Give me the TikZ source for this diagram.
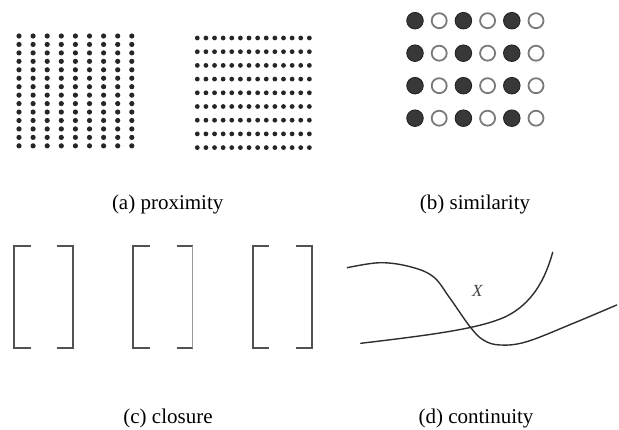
\documentclass[tikz,border=0pt]{standalone}
\usepackage{fontspec}
\setmainfont{Liberation Serif}
\begin{document}
\begin{tikzpicture}[x=1pt,y=-1pt,
  dot/.style={fill=black!85},
  fullc/.style={fill=black!78,draw=black!88,line width=0.8pt},
  openc/.style={draw=black!52,line width=1.8pt,fill=white},
  brk/.style={draw=black!68,line width=2pt,line cap=rect,line join=miter},
  curveline/.style={draw=black!82,line width=1.4pt,line cap=round},
  captext/.style={font=\fontsize{21}{25}\selectfont,anchor=base,inner sep=0pt}]
\useasboundingbox (0,0) rectangle (619,430);
% (a) proximity
\foreach \i in {0,...,8}
  \foreach \j in {0,...,13}
    \fill[dot] (19+\i*14.1, 36+\j*8.45) circle (2.6pt);
\foreach \i in {0,...,13}
  \foreach \j in {0,...,8}
    \fill[dot] (197.3+\i*8.62, 38+\j*13.7) circle (2.4pt);
% (b) similarity
\foreach \j in {0,...,3}{
  \foreach \i in {0,2,4}
    \path[fullc] (415+\i*24.2, 20.7+\j*32.5) circle (8.3pt);
  \foreach \i in {1,3,5}
    \path[openc] (415+\i*24.2, 20.7+\j*32.5) circle (7.5pt);
}
% (c) closure
\foreach \l in {14, 133.3, 252.7}{
  \draw[brk] (\l+15.5,246) -- (\l,246) -- (\l,348.5) -- (\l+15.5,348.5);
}
\draw[brk] (58.3,246) -- (73.3,246) -- (73.3,348.5) -- (58.3,348.5);
\draw[brk] (177.7,246) -- (192.3,246);
\draw[brk] (177.7,348.5) -- (192.3,348.5);
\draw[draw=black!40,line width=1pt] (192.3,246) -- (192.3,348.5);
\draw[brk] (296.7,246) -- (311.7,246) -- (311.7,348.5) -- (296.7,348.5);
% (d) continuity
\draw[curveline] plot[smooth,tension=0.6] coordinates {(347.3,267.7) (380,262.7) (410,266.7) (433.3,276.7) (450,298.3) (470,326.7) (483.3,340) (500,345) (526.7,341.7) (573.3,323.3) (616.7,305)};
\draw[curveline] (360.7,343.3) .. controls (440,334) and (480,328) .. (505,317) .. controls (532,304) and (545,280) .. (552.7,252.3);
\node[font=\fontsize{17}{20}\selectfont\itshape,text=black!75] (xl) at (477.3,290.7) {X};
% captions
\node[captext] (ca) at (167.7,210) {(a) proximity};
\node[captext] (cb) at (475,210) {(b) similarity};
\node[captext] (cc) at (168,424) {(c) closure};
\node[captext] (cd) at (476,424) {(d) continuity};
\end{tikzpicture}
\end{document}
